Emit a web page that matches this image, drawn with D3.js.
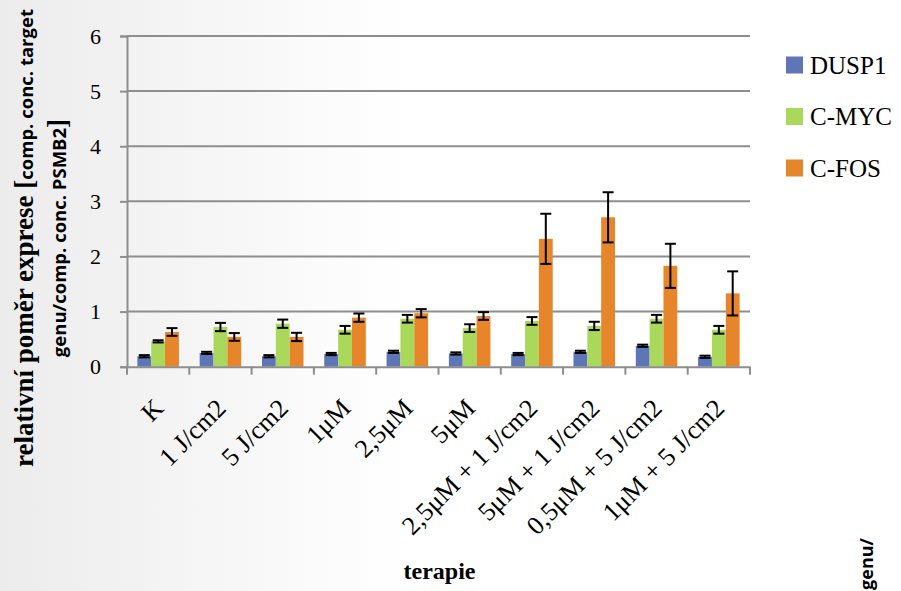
<!DOCTYPE html>
<html>
<head>
<meta charset="utf-8">
<script src="https://cdn.jsdelivr.net/npm/d3@7"></script>
<style>
  body { margin: 0; background: #fff; }
  svg { display: block; }
</style>
</head>
<body>
<svg id="chart" width="901" height="591"></svg>
<script>
// Relative expression of DUSP1, C-MYC and C-FOS per therapy
const categories = ["K", "1 J/cm2", "5 J/cm2", "1μM", "2,5μM", "5μM",
  "2,5μM + 1 J/cm2", "5μM + 1 J/cm2", "0,5μM + 5 J/cm2", "1μM + 5 J/cm2"];
const seriesNames = ["DUSP1", "C-MYC", "C-FOS"];
const seriesColors = ["#5e76b8", "#a9d85b", "#e7852a"];

const dusp1    = [0.19, 0.25, 0.19, 0.23, 0.27, 0.24, 0.23, 0.27, 0.38, 0.18];
const dusp1Err = [0.02, 0.02, 0.02, 0.02, 0.02, 0.02, 0.02, 0.02, 0.02, 0.02];
const cmyc     = [0.46, 0.72, 0.78, 0.67, 0.87, 0.70, 0.83, 0.74, 0.87, 0.67];
const cmycErr  = [0.02, 0.075, 0.075, 0.07, 0.07, 0.07, 0.07, 0.075, 0.07, 0.07];
const cfos     = [0.63, 0.54, 0.54, 0.89, 0.97, 0.92, 2.32, 2.71, 1.83, 1.33];
const cfosErr  = [0.07, 0.07, 0.075, 0.075, 0.075, 0.07, 0.455, 0.455, 0.40, 0.40];
const yTicks   = [0, 1, 2, 3, 4, 5, 6];

const seriesValues = [dusp1, cmyc, cfos];
const seriesErrors = [dusp1Err, cmycErr, cfosErr];

const svg = d3.select("#chart");
const serif = "'Liberation Serif', 'DejaVu Serif', serif";
const sans = "'Open Sans', 'Liberation Sans', sans-serif";

// soft grey shading on the left of the canvas
const defs = svg.append("defs");
const grad = defs.append("linearGradient").attr("id", "bg").attr("x1", "0").attr("x2", "1").attr("y1", "0").attr("y2", "0");
grad.append("stop").attr("offset", "0").attr("stop-color", "#ececec");
grad.append("stop").attr("offset", "0.45").attr("stop-color", "#ffffff");
grad.append("stop").attr("offset", "1").attr("stop-color", "#ffffff");
svg.append("rect").attr("width", 901).attr("height", 591).attr("fill", "url(#bg)");

const plot = { left: 127, right: 750, top: 36, bottom: 366.7 };

const x = d3.scaleBand().domain(categories).range([plot.left, plot.right]).paddingInner(0).paddingOuter(0);
const xs = d3.scaleBand().domain(seriesNames).range([0, x.bandwidth()]).paddingInner(0).paddingOuter(0.75);
const y = d3.scaleLinear().domain([0, 6]).range([plot.bottom, plot.top]);

// horizontal gridlines
svg.append("g")
  .selectAll("line")
  .data(yTicks.filter(t => t > 0))
  .join("line")
  .attr("x1", plot.left).attr("x2", plot.right)
  .attr("y1", d => y(d)).attr("y2", d => y(d))
  .attr("stroke", "#8e8e8e").attr("stroke-width", 2);

// bars
const groups = svg.append("g").selectAll("g")
  .data(categories)
  .join("g")
  .attr("transform", d => `translate(${x(d)},0)`);

seriesNames.forEach((name, s) => {
  groups.append("rect")
    .attr("x", xs(name))
    .attr("width", xs.bandwidth())
    .attr("y", (d, i) => y(seriesValues[s][i]))
    .attr("height", (d, i) => y(0) - y(seriesValues[s][i]))
    .attr("fill", seriesColors[s]);
});

// error bars
seriesNames.forEach((name, s) => {
  const cx = xs(name) + xs.bandwidth() / 2;
  const half = 5.5;
  const eb = groups.append("g").attr("stroke", "#000").attr("stroke-width", 2);
  eb.append("line")
    .attr("x1", cx).attr("x2", cx)
    .attr("y1", (d, i) => y(seriesValues[s][i] + seriesErrors[s][i]))
    .attr("y2", (d, i) => y(seriesValues[s][i] - seriesErrors[s][i]));
  [1, -1].forEach(sign => {
    eb.append("line")
      .attr("x1", cx - half).attr("x2", cx + half)
      .attr("y1", (d, i) => y(seriesValues[s][i] + sign * seriesErrors[s][i]))
      .attr("y2", (d, i) => y(seriesValues[s][i] + sign * seriesErrors[s][i]));
  });
});

// y axis
const yAxis = svg.append("g")
  .attr("transform", `translate(${plot.left},0)`)
  .call(d3.axisLeft(y).tickValues(yTicks).tickSize(7).tickPadding(19).tickFormat(d3.format("d")));
yAxis.select(".domain").attr("stroke", "#8e8e8e").attr("stroke-width", 2);
yAxis.selectAll(".tick line").attr("stroke", "#8e8e8e").attr("stroke-width", 2);
yAxis.selectAll(".tick text")
  .attr("font-family", serif).attr("font-size", 22).attr("fill", "#000");

// x axis
const xAxis = svg.append("g")
  .attr("transform", `translate(0,${plot.bottom})`)
  .call(d3.axisBottom(x).tickSize(0).tickFormat(""));
xAxis.select(".domain").attr("stroke", "#8e8e8e").attr("stroke-width", 2);
xAxis.selectAll(".tick").remove();
// category boundary ticks
svg.append("g").selectAll("line")
  .data(categories.map(c => x(c)).concat([plot.right]))
  .join("line")
  .attr("x1", d => d).attr("x2", d => d)
  .attr("y1", plot.bottom).attr("y2", plot.bottom + 8)
  .attr("stroke", "#8e8e8e").attr("stroke-width", 2);

// rotated category labels
svg.append("g").selectAll("text")
  .data(categories)
  .join("text")
  .attr("transform", d => `translate(${x(d) + x.bandwidth() / 2 + 7},${plot.bottom + 43}) rotate(-45)`)
  .attr("text-anchor", "end")
  .attr("font-family", serif).attr("font-size", 26).attr("fill", "#000")
  .text(d => d);

// x axis title
svg.append("text")
  .attr("x", (plot.left + plot.right) / 2 + 1).attr("y", 579)
  .attr("text-anchor", "middle")
  .attr("font-family", serif).attr("font-size", 24).attr("font-weight", "bold")
  .text("terapie");

// y axis title, two lines
const yTitle = svg.append("text")
  .attr("transform", "translate(0,238) rotate(-90)")
  .attr("text-anchor", "middle")
  .attr("font-weight", "bold").attr("fill", "#000");
const l1 = yTitle.append("tspan").attr("x", 0).attr("y", 33);
l1.append("tspan").attr("font-family", serif).attr("font-size", 27).text("relativní poměr exprese [");
l1.append("tspan").attr("font-family", sans).attr("font-size", 18.5).text("comp. conc. target");
const l2 = yTitle.append("tspan").attr("x", 0).attr("y", 66);
l2.append("tspan").attr("font-family", sans).attr("font-size", 18.5).text("genu/comp. conc. PSMB2");
l2.append("tspan").attr("font-family", serif).attr("font-size", 27).text("]");

// stray fragment at the lower right edge
svg.append("text")
  .attr("transform", "translate(873,538) rotate(-90)")
  .attr("text-anchor", "end")
  .attr("font-family", sans).attr("font-size", 18).attr("font-weight", "bold")
  .text("genu/");

// legend
const legend = svg.append("g").selectAll("g")
  .data(seriesNames)
  .join("g")
  .attr("transform", (d, i) => `translate(786,${65 + i * 51.5})`);
legend.append("rect")
  .attr("x", 0).attr("y", -8.5).attr("width", 17).attr("height", 17)
  .attr("fill", (d, i) => seriesColors[i]);
legend.append("text")
  .attr("x", 24).attr("y", 8.5)
  .attr("font-family", serif).attr("font-size", 25).attr("fill", "#000")
  .text(d => d);
</script>
</body>
</html>
